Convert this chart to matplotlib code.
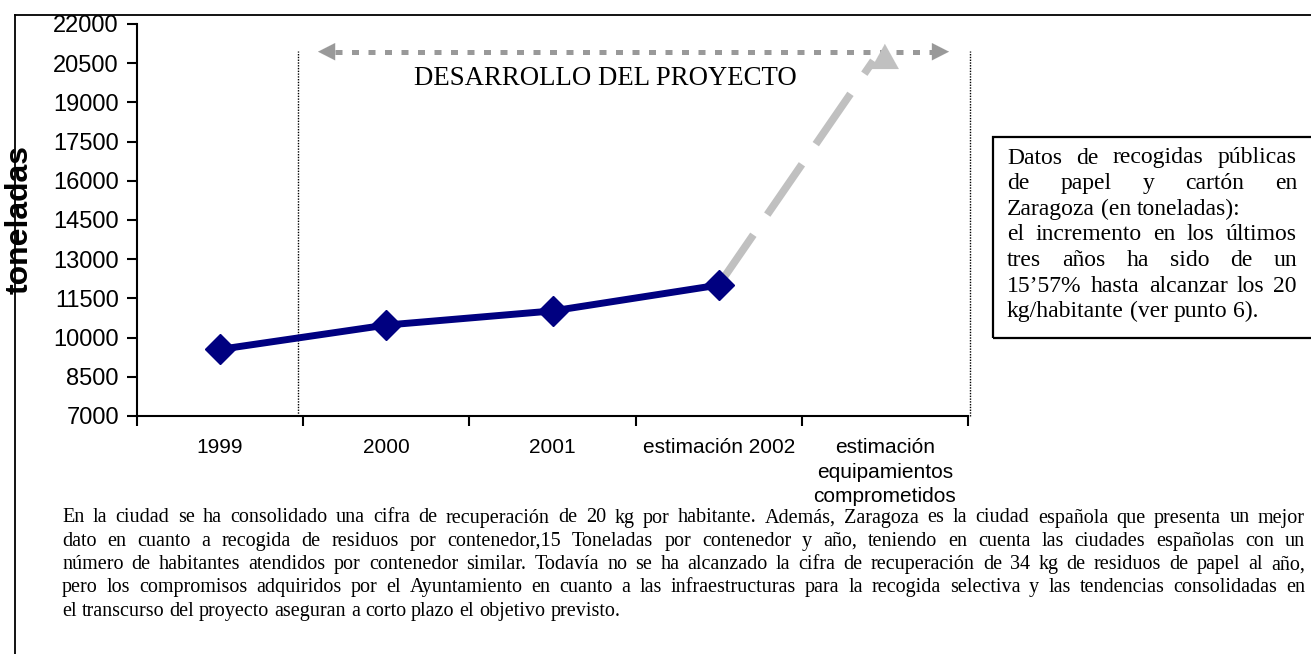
import matplotlib
matplotlib.use("Agg")
import matplotlib.pyplot as plt
from matplotlib.lines import Line2D
from matplotlib.patches import Rectangle

W, H = 1311, 654

categories = ["1999", "2000", "2001", "estimación 2002",
              "estimación\nequipamientos\ncomprometidos"]
toneladas = [9550, 10480, 11020, 12010]
proyeccion = [12010, 21240]
y_ticks = [7000, 8500, 10000, 11500, 13000, 14500, 16000, 17500, 19000, 20500, 22000]

box_lines = [
    ("Datos de recogidas públicas", True),
    ("de papel y cartón en", True),
    ("Zaragoza (en toneladas):", False),
    ("el incremento en los últimos", True),
    ("tres años ha sido de un", True),
    ("15’57% hasta alcanzar los 20", True),
    ("kg/habitante (ver punto 6).", False),
]

para_lines = [
    ("En la ciudad se ha consolidado una cifra de recuperación de 20 kg por habitante. "
     "Además, Zaragoza es la ciudad española que presenta un mejor", True),
    ("dato en cuanto a recogida de residuos por contenedor,15 Toneladas por contenedor "
     "y año, teniendo en cuenta las ciudades españolas con un", True),
    ("número de habitantes atendidos por contenedor similar. Todavía no se ha alcanzado "
     "la cifra de recuperación de 34 kg de residuos de papel al año,", True),
    ("pero los compromisos adquiridos por el Ayuntamiento en cuanto a las infraestructuras "
     "para la recogida selectiva y las tendencias consolidadas en", True),
    ("el transcurso del proyecto aseguran a corto plazo el objetivo previsto.", False),
]

SANS = "Liberation Sans"
SERIF = "Liberation Serif"


def fx(px):
    return px / W


def fy(py):
    return 1 - py / H


def justified_line(fig, renderer, text, justify, x0, x1, y, size):
    # place word by word so the line fills x0..x1 like the justified original
    words = text.split(" ")
    objs = [fig.text(0, fy(y), w, fontsize=size, family=SERIF, va="center", ha="left")
            for w in words]
    widths = [o.get_window_extent(renderer).width for o in objs]
    if justify and len(words) > 1:
        gap = (x1 - x0 - sum(widths)) / (len(words) - 1)
    else:
        gap = size * 100 / 72 * 0.25
    x = x0
    for o, w in zip(objs, widths):
        o.set_x(fx(x))
        x += w + gap


fig = plt.figure(figsize=(W / 100, H / 100), dpi=100)
ax = fig.add_axes([fx(137), fy(416), fx(968) - fx(137), fy(24) - fy(416)])

xs = list(range(len(categories)))
ax.plot(xs[:len(toneladas)], toneladas, color="#000080", lw=5, marker="D",
        markersize=15, zorder=4)

# projected growth: dashed grey arrow
x0, x1 = xs[3], xs[4]
y0, y1 = proyeccion
f = 0.93
ax.plot([x0, x0 + (x1 - x0) * f], [y0, y0 + (y1 - y0) * f],
        color="#c0c0c0", lw=5.5, dashes=(8, 3.2), dash_capstyle="butt", zorder=3)
ax.annotate("", xy=(x1, y1), xytext=(x1, y1 - 900),
            arrowprops=dict(arrowstyle="-|>,head_length=0.9,head_width=0.5",
                            mutation_scale=20, color="#c0c0c0", lw=0.1,
                            shrinkA=0, shrinkB=0),
            annotation_clip=False)

# project duration: dotted double arrow
y_arr = 20940
ax.plot([0.69, 4.29], [y_arr, y_arr], color="#999999", lw=3.6,
        dashes=(1.4, 1.9), dash_capstyle="butt", clip_on=False)
for a, b in [(0.70, 0.589), (4.28, 4.386)]:
    ax.annotate("", xy=(b, y_arr), xytext=(a, y_arr),
                arrowprops=dict(arrowstyle="-|>,head_length=0.61,head_width=0.31",
                                mutation_scale=20, color="#999999", lw=0.1,
                                shrinkA=0, shrinkB=0),
                annotation_clip=False)
ax.text(2.32, 19900, "DESARROLLO DEL PROYECTO", family=SERIF, fontsize=19.3,
        ha="center", va="center")

for xv in [0.47, 4.51]:
    ax.plot([xv, xv], [7000, 20950], color="black", lw=1, ls=(0, (1, 1)),
            clip_on=False, zorder=1)

ax.set_xlim(-0.5, 4.5)
ax.set_ylim(7000, 22000)
ax.set_yticks(y_ticks)
ax.set_yticklabels([str(v) for v in y_ticks], family=SANS, fontsize=17)
ax.set_xticks(xs)
ax.set_xticklabels(categories, family=SANS, fontsize=15, linespacing=1.36)
ax.set_xticks([i - 0.5 for i in range(len(categories) + 1)], minor=True)
ax.tick_params(axis="x", which="major", length=0, pad=16)
ax.tick_params(axis="x", which="minor", length=7, width=1.5, direction="out")
ax.tick_params(axis="y", length=7, width=1.5, direction="out", pad=6)
for s in ["top", "right"]:
    ax.spines[s].set_visible(False)
for s in ["left", "bottom"]:
    ax.spines[s].set_linewidth(1.5)
ax.set_ylabel("toneladas", family=SANS, fontsize=23, fontweight="bold", va="center")
ax.yaxis.set_label_coords(-0.141, 0.5)

# outer frame lines
fig.add_artist(Line2D([fx(15), fx(1311)], [fy(15), fy(15)], color="black", lw=1.3))
fig.add_artist(Line2D([fx(15), fx(15)], [fy(15), fy(654)], color="black", lw=1.3))

# side note box
fig.add_artist(Rectangle((fx(993), fy(338)), fx(1320) - fx(993), fy(137) - fy(338),
                         transform=fig.transFigure, fill=False, lw=1.6,
                         edgecolor="black"))

renderer = fig.canvas.get_renderer()
for i, (t, j) in enumerate(box_lines):
    justified_line(fig, renderer, t, j, 1007, 1297, 158 + i * 25.6, 17)

for i, (t, j) in enumerate(para_lines):
    justified_line(fig, renderer, t, j, 62, 1305, 518 + i * 23.3, 14.5)

fig.savefig("out.png", dpi=100)
